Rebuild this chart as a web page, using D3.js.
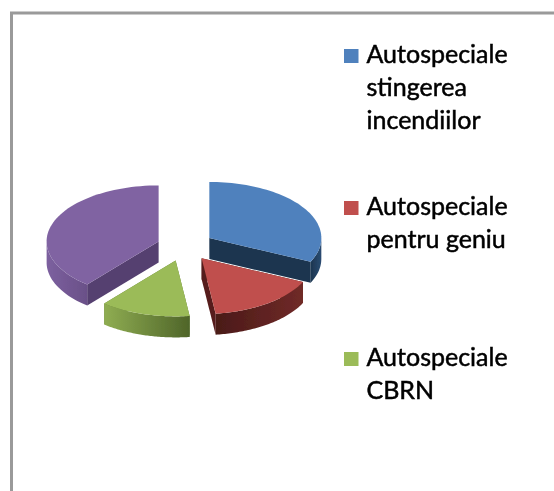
<!DOCTYPE html>
<html><head><meta charset="utf-8">
<script src="https://cdnjs.cloudflare.com/ajax/libs/d3/7.8.5/d3.min.js"></script>
<style>html,body{margin:0;padding:0;background:#fff}svg{display:block}</style>
</head><body><script>
const sliceNames = ["Autospeciale stingerea incendiilor","Autospeciale pentru geniu","Autospeciale CBRN","Altele"];
const sliceValues = [32,16,13,39];
const legendLines = [["Autospeciale","stingerea","incendiilor"],["Autospeciale","pentru geniu"],["Autospeciale","CBRN"]];
const topColors = ["#4f81bd","#c0504d","#9bbb59","#8064a2"];
const wallColors = ["#1c3550","#571f1d","#5f7a32","#553f70"];
const outerStart = ["#2a4c72","#702a28","#4f6529","#6a5088"];
const outerEnd = ["#1c3550","#4a1a18","#8fad52","#7c609f"];
const explodeBy = [30,30,30,27];

const W=554,H=491,cx=184,cy=246,rx=112,ry=56,depth=21;
const svg=d3.select("body").append("svg").attr("width",W).attr("height",H);
const defs=svg.append("defs");
defs.append("filter").attr("id","soft").attr("x","-5%").attr("y","-5%").attr("width","110%").attr("height","110%")
  .append("feGaussianBlur").attr("stdDeviation",0.7);

const root=svg.append("g").attr("filter","url(#soft)");
root.append("path").attr("d",`M11.5,${H+10}V13H${W+10}`).attr("fill","none").attr("stroke","#9a9a9a").attr("stroke-width",3);

const pie=d3.pie().sort(null).value(d=>d)(sliceValues);
const P=a=>[rx*Math.sin(a),-ry*Math.cos(a)];
const line=d3.line();

const order=[3,0,2,1];
order.forEach(i=>{
  const s=pie[i], mid=(s.startAngle+s.endAngle)/2, e0=explodeBy[i];
  const ox=cx+e0*Math.sin(mid), oy=cy-e0*0.5*Math.cos(mid);
  const g=root.append("g").attr("transform",`translate(${ox},${oy})`);
  const steps=d3.range(0,61).map(k=>s.startAngle+(s.endAngle-s.startAngle)*k/60);
  const arcPts=steps.map(P);
  [s.startAngle,s.endAngle].forEach(a=>{
    const e=P(a);
    g.append("path").attr("d",line([[0,0],e,[e[0],e[1]+depth],[0,depth]])+"Z").attr("fill",wallColors[i]);
  });
  const front=steps.filter(a=>a>=Math.PI/2&&a<=Math.PI*1.5).map(P);
  if(front.length>1){
    const id="wall"+i;
    const gr=defs.append("linearGradient").attr("id",id).attr("gradientUnits","userSpaceOnUse")
      .attr("x1",front[0][0]).attr("x2",front[front.length-1][0]).attr("y1",0).attr("y2",0);
    gr.append("stop").attr("offset",0).attr("stop-color",outerStart[i]);
    gr.append("stop").attr("offset",1).attr("stop-color",outerEnd[i]);
    const low=front.map(p=>[p[0],p[1]+depth]).reverse();
    g.append("path").attr("d",line(front.concat(low))+"Z").attr("fill",`url(#${id})`);
  }
  g.append("path").attr("d",line([[0,0]].concat(arcPts))+"Z").attr("fill",topColors[i]);
});

const legendTop=[49,201,352];
const lineHeight=33;
legendLines.forEach((lines,i)=>{
  root.append("rect").attr("x",344).attr("y",legendTop[i]).attr("width",14.5).attr("height",14).attr("fill",topColors[i]);
  lines.forEach((t,j)=>{
    root.append("text").attr("x",366.5).attr("y",legendTop[i]+14+j*lineHeight)
      .attr("font-family","Lato, 'Open Sans', sans-serif").attr("font-size",25).attr("fill","#000")
      .attr("stroke","#000").attr("stroke-width",0.5).text(t);
  });
});
</script></body></html>
